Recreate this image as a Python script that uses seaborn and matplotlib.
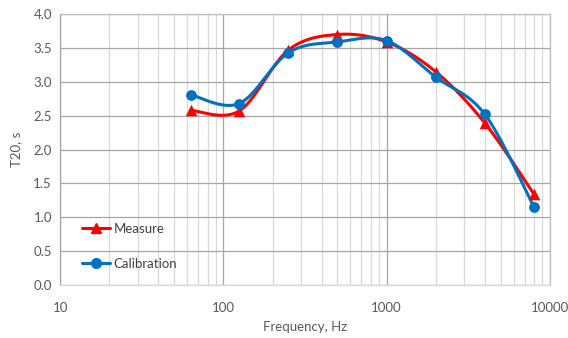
import numpy as np
import pandas as pd
import matplotlib
matplotlib.use("Agg")
import matplotlib.pyplot as plt
import seaborn as sns
from matplotlib.ticker import LogLocator, FixedLocator, NullFormatter

freq = [63, 125, 250, 500, 1000, 2000, 4000, 8000]
measure = [2.58, 2.57, 3.47, 3.70, 3.59, 3.15, 2.39, 1.34]
calibration = [2.81, 2.68, 3.43, 3.59, 3.61, 3.07, 2.52, 1.15]
series_names = ["Measure", "Calibration"]
colors = {"Measure": "#FF0000", "Calibration": "#0070C0"}
markers = {"Measure": "^", "Calibration": "o"}

sns.set_theme(style="white")
plt.rcParams["font.family"] = ["Lato", "DejaVu Sans"]


def smooth(xs, ys, n=40):
    # Catmull-Rom curve through the data (in log-x space), like Excel's smoothed line
    lx = np.log10(xs)
    y = np.asarray(ys, float)
    px = np.concatenate([[lx[0]], lx, [lx[-1]]])
    py = np.concatenate([[y[0]], y, [y[-1]]])
    ox, oy = [], []
    for i in range(1, len(px) - 2):
        p0, p1, p2, p3 = (np.array([px[j], py[j]]) for j in (i - 1, i, i + 1, i + 2))
        c1 = p1 + (p2 - p0) / 6
        c2 = p2 - (p3 - p1) / 6
        t = np.linspace(0, 1, n)[:, None]
        b = ((1 - t) ** 3) * p1 + 3 * ((1 - t) ** 2) * t * c1 + 3 * (1 - t) * t ** 2 * c2 + t ** 3 * p2
        ox.extend(b[:, 0]); oy.extend(b[:, 1])
    return 10 ** np.array(ox), np.array(oy)


fig, ax = plt.subplots(figsize=(5.68, 3.38), dpi=100)
fig.subplots_adjust(left=0.106, right=0.968, top=0.958, bottom=0.157)

df = pd.DataFrame({"freq": freq * 2,
                   "T20": measure + calibration,
                   "series": ["Measure"] * len(freq) + ["Calibration"] * len(freq)})

for name in series_names:
    sub = df[df.series == name]
    sx, sy = smooth(sub.freq.values, sub.T20.values)
    ax.plot(sx, sy, color=colors[name], lw=2.2, zorder=3)
    sns.scatterplot(data=sub, x="freq", y="T20", marker=markers[name], color=colors[name],
                    s=70 if name == "Measure" else 60, edgecolor=colors[name], linewidth=0, ax=ax, zorder=4)
    ax.plot([], [], color=colors[name], lw=2.2, marker=markers[name], markersize=7, label=name)

ax.set_xscale("log")
ax.set_xlim(10, 10000)
ax.set_ylim(0, 4.0)
ax.set_yticks(np.arange(0, 4.01, 0.5))
ax.set_yticklabels([f"{v:.1f}" for v in np.arange(0, 4.01, 0.5)])
ax.xaxis.set_major_locator(FixedLocator([10, 100, 1000, 10000]))
ax.set_xticklabels(["10", "100", "1000", "10000"])
ax.xaxis.set_minor_locator(LogLocator(base=10, subs=np.arange(2, 10)))
ax.xaxis.set_minor_formatter(NullFormatter())

ax.grid(True, which="major", color="#A6A6A6", lw=0.9)
ax.grid(True, which="minor", axis="x", color="#D9D9D9", lw=0.9)
ax.set_axisbelow(True)
for s in ax.spines.values():
    s.set_color("#BFBFBF")
    s.set_linewidth(0.9)
ax.spines["left"].set_color("#A6A6A6")
ax.spines["bottom"].set_color("#D9D9D9")

ax.tick_params(axis="both", which="both", length=0, labelsize=9.5, colors="#595959", pad=6)
ax.tick_params(axis="x", pad=12)
ax.set_xlabel("Frequency, Hz", fontsize=9.5, color="#595959", labelpad=5)
ax.set_ylabel("T20, s", fontsize=9.5, color="#595959", labelpad=8)

leg = ax.legend(loc="lower left", bbox_to_anchor=(0.02, 0.012), frameon=False, fontsize=9.5,
                labelspacing=1.75, handlelength=2.1, handletextpad=0.3)
for t in leg.get_texts():
    t.set_color("#404040")

fig.savefig("out.png", dpi=100)
